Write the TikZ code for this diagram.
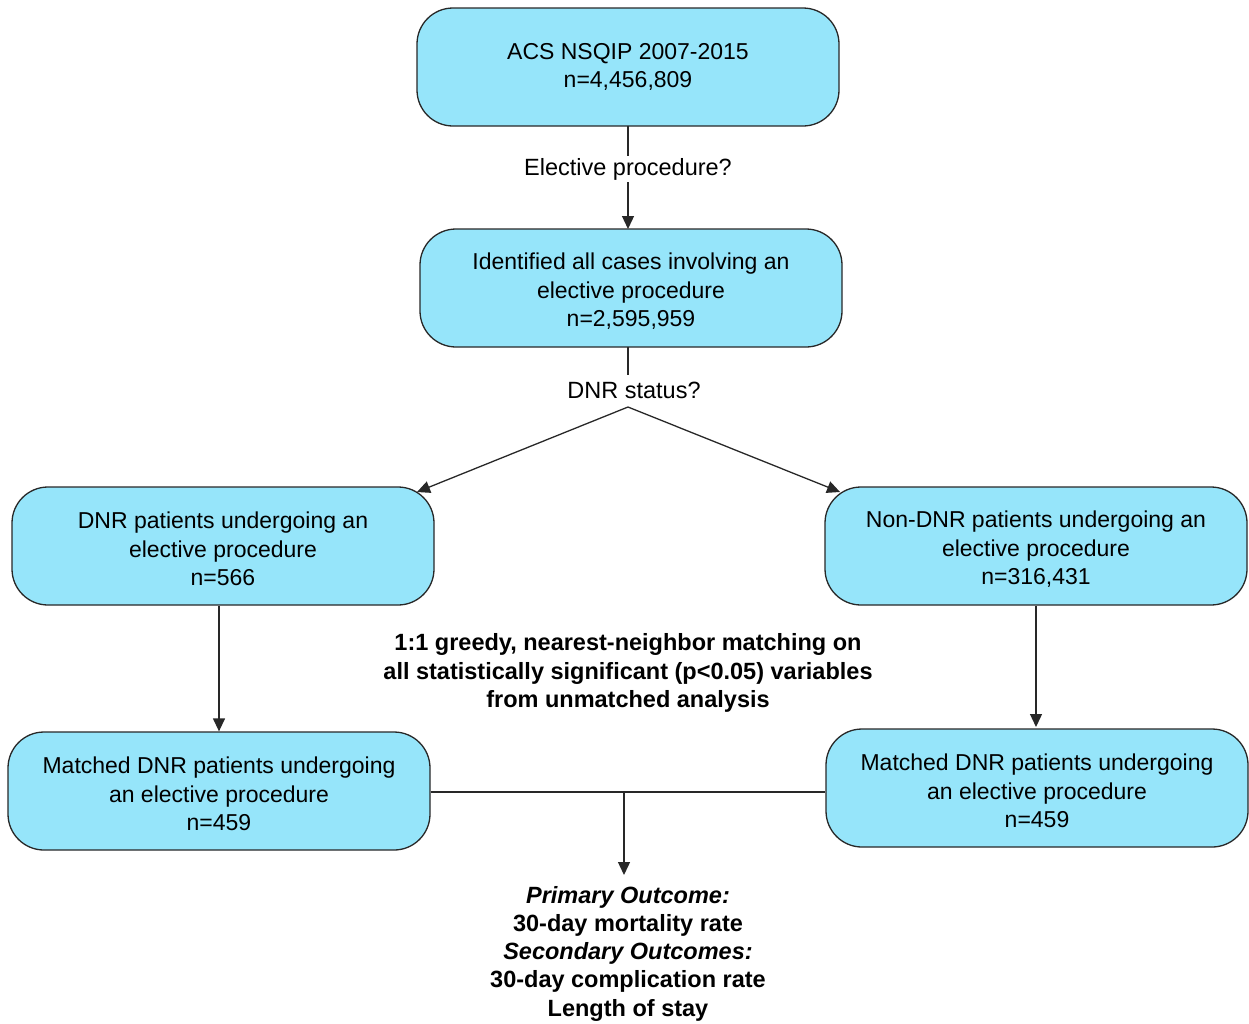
\documentclass[tikz,border=0pt]{standalone}
\usepackage{fontspec}
\setmainfont{Liberation Sans}
\usetikzlibrary{arrows.meta}
\definecolor{boxfill}{RGB}{150,229,250}
\definecolor{boxline}{RGB}{40,40,40}
\newcommand{\dnstrut}{\rule{0pt}{23pt}}
\tikzset{
  stepbox/.style={draw=boxline, line width=1.3pt, fill=boxfill, rounded corners=36pt,
    minimum width=422pt, minimum height=118pt, align=center, inner sep=0pt,
    font=\fontsize{23}{28.5}\selectfont},
  lbl/.style={fill=white, inner sep=2pt, font=\fontsize{23.5}{28.5}\selectfont},
  boldlbl/.style={align=center, inner sep=0pt, font=\bfseries\fontsize{23.5}{28.2}\selectfont},
  arr/.style={draw=boxline, line width=1.3pt, -{Triangle[length=13pt,width=12pt]}},
  ln/.style={draw=boxline, line width=1.3pt}
}
\begin{document}
\begin{tikzpicture}[x=1pt,y=-1pt]
\useasboundingbox (0,0) rectangle (1249,1023);
\node[stepbox] (top) at (628,67) {ACS NSQIP 2007-2015\\n=4,456,809};
\node[stepbox] (elect) at (631,288) {\dnstrut Identified all cases involving an\\elective procedure\\n=2,595,959};
\node[stepbox] (dnr) at (223,546) {\dnstrut DNR patients undergoing an\\elective procedure\\n=566};
\node[stepbox] (ndnr) at (1036,546) {\dnstrut Non-DNR patients undergoing an\\elective procedure\\n=316,431};
\node[stepbox] (mdnr) at (219,791) {\dnstrut Matched DNR patients undergoing\\an elective procedure\\n=459};
\node[stepbox] (mndnr) at (1037,788) {\dnstrut Matched DNR patients undergoing\\an elective procedure\\n=459};

\coordinate (topout) at (628,126);
\coordinate (electin) at (628,229);
\draw[arr] (topout) -- node[lbl, pos=0.42] (q1) {Elective procedure?} (electin);

\node[inner sep=1pt, font=\fontsize{23.5}{28.5}\selectfont] (q2) at (634,390) {DNR status?};
\coordinate (electout) at (628,347);
\draw[ln] (electout) -- (628,375);
\coordinate (split) at (628,407);
\coordinate (dnrin) at (417,492);
\coordinate (ndnrin) at (840,492);
\draw[arr] (split) -- (dnrin);
\draw[arr] (split) -- (ndnrin);

\draw[arr] (dnr.south -| 219,0) -- (mdnr.north -| 219,0);
\draw[arr] (ndnr.south) -- (ndnr.south |- 0,727);

\node[boldlbl] (match) at (628,673) {1:1 greedy, nearest-neighbor matching on\\all statistically significant (p<0.05) variables\\from unmatched analysis};

\draw[ln] (mdnr.east |- 0,792) -- (mndnr.west |- 0,792);
\coordinate (join) at (624,792);
\node[boldlbl, anchor=north] (out) at (628,886) {\itshape Primary Outcome:\\30-day mortality rate\\\itshape Secondary Outcomes:\\30-day complication rate\\Length of stay};
\draw[arr] (join) -- (624,875);
\end{tikzpicture}
\end{document}
